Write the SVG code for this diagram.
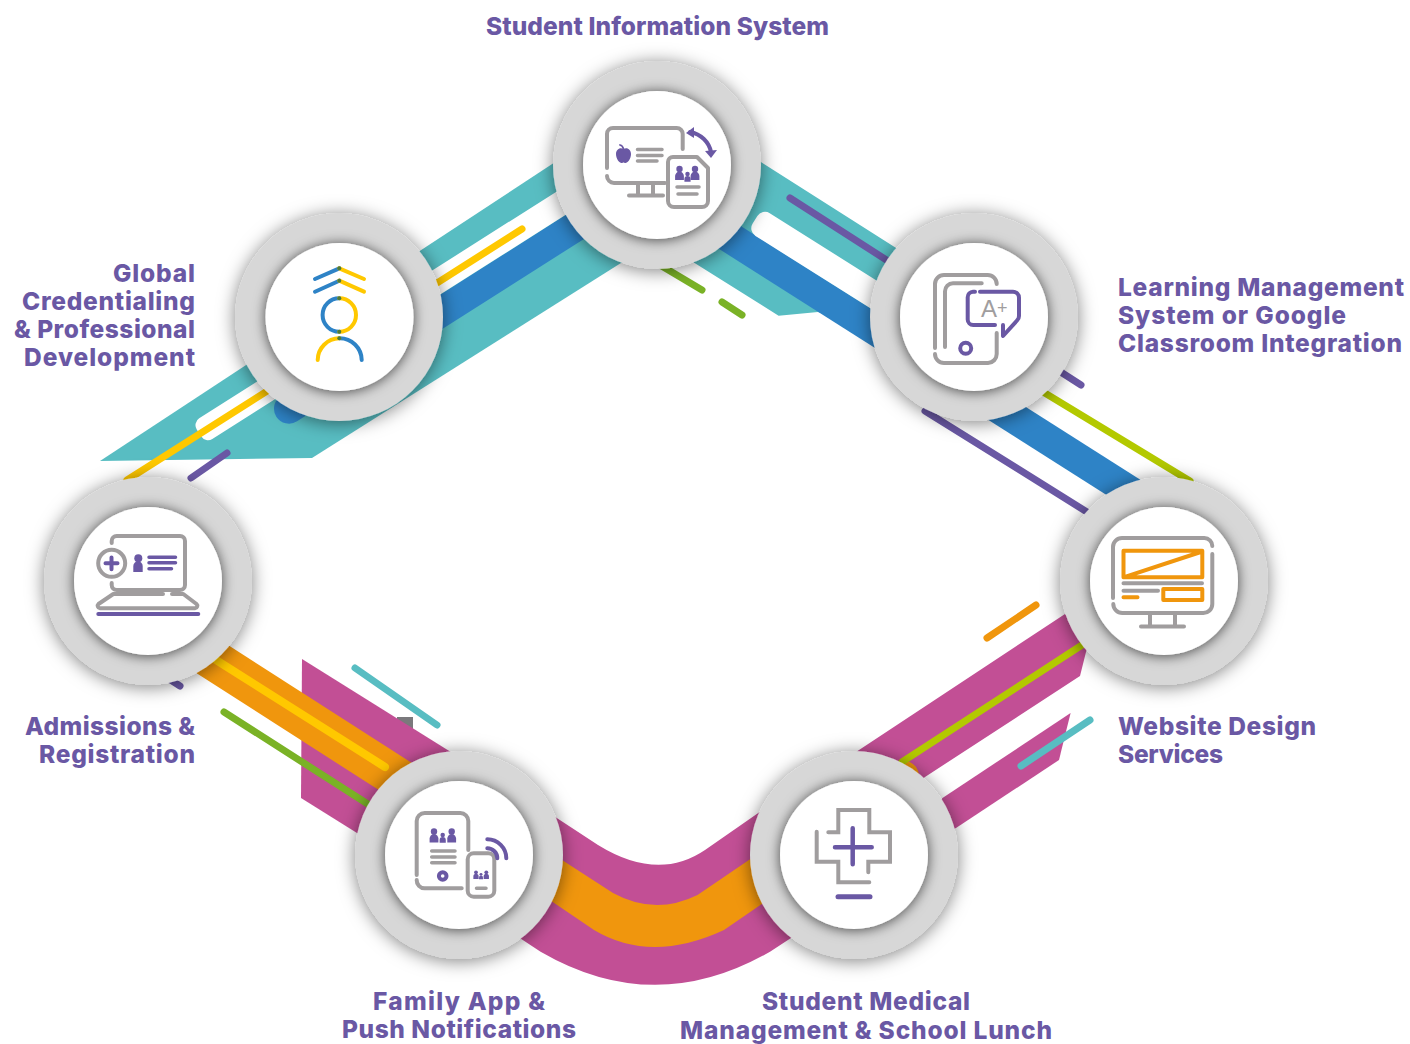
<svg xmlns="http://www.w3.org/2000/svg" width="1410" height="1044" viewBox="0 0 1410 1044">
<style>
.ring{fill:#d7d7d7;filter:url(#outer)}
.disc{fill:#fff;filter:url(#inner)}
.g{fill:none;stroke:#a09d9e;stroke-width:4;stroke-linecap:round;stroke-linejoin:round}
.p{fill:none;stroke:#6a58a4;stroke-width:4;stroke-linecap:round;stroke-linejoin:round}
.o{fill:none;stroke:#f0960d;stroke-width:4;stroke-linecap:round}
.b{fill:none;stroke:#2e83c6;stroke-width:4;stroke-linecap:round}
.y{fill:none;stroke:#ffc800;stroke-width:4;stroke-linecap:round}
.pf{fill:#6a58a4}
.dot{fill:#4d7a3c}
.l{fill:none;stroke-width:7;stroke-linecap:round}
text.t{font-family:"Inter","Liberation Sans",sans-serif;font-weight:800;font-size:24.5px;fill:#6a58a4}
</style>
<defs>
<filter id="outer" x="-30%" y="-30%" width="160%" height="160%"><feDropShadow dx="0" dy="2" stdDeviation="9" flood-color="#000" flood-opacity=".5"/></filter>
<filter id="inner" x="-30%" y="-30%" width="160%" height="160%"><feDropShadow dx="0" dy="1" stdDeviation="6.500" flood-color="#000" flood-opacity=".68"/></filter>
<g id="person"><circle cx="0" cy="-7" r="3.2"/><path d="M-4.4,4V0a4.4,4.4 0 0 1 8.8,0V4Z"/></g>
</defs>

<g id="connectors">
<polygon fill="#58bdc2" points="100,461 575,149 640,251 312,458"/>
<line x1="289" y1="408.6" x2="600" y2="211" stroke="#2e83c6" stroke-width="30" stroke-linecap="round"/>
<rect x="0" y="-12.25" width="475" height="24.5" rx="8" fill="#fff" transform="translate(199,433) rotate(-32.4)"/>
<polygon fill="#58bdc2" points="720,136 915,260 870,330 818,312 778.6,315.7 694.6,263 650,235"/>
<line x1="700" y1="218.5" x2="1160" y2="510.6" stroke="#2e83c6" stroke-width="31"/>
<rect x="0" y="-13.4" width="190" height="26.8" rx="9" fill="#fff" transform="translate(755,219.8) rotate(32.2)"/>
<line class="l" x1="127" y1="480" x2="522" y2="229" stroke="#ffc800"/>
<line class="l" x1="191" y1="478" x2="227" y2="453" stroke="#6a58a4"/>
<line class="l" x1="790" y1="198" x2="1081" y2="385" stroke="#6a58a4"/>
<line class="l" x1="925" y1="411" x2="1095" y2="517" stroke="#6a58a4"/>
<line class="l" x1="1030" y1="384" x2="1190" y2="481" stroke="#b3c900"/>
<line class="l" x1="660" y1="265" x2="702" y2="290" stroke="#7ab226"/>
<line class="l" x1="722" y1="302" x2="742" y2="315" stroke="#7ab226"/>
<rect x="397" y="717" width="16" height="20" fill="#7a797c"/>
<polygon fill="#c24f95" points="302,659 470,764 470,880 357,833 301,798"/>
<polygon fill="#c24f95" points="856,752 1065,614 1090,640 1086,652 1080,676 925,777 880,810"/>
<polygon fill="#c24f95" points="942.5,798 1070.6,713 1059,760 956,828 900,850"/>
<path fill="#c24f95" d="M540,807L598,845Q658,882 705,850L780,798L800,930L791,938L770,951.7Q655,1018 540.6,951.7L500,925Z"/>
<path fill="#f0960d" d="M545,849L613,893Q655,916 697.5,895L765,849L775,895L724,930Q651,964 594,930L535,890Z"/>
<polygon fill="#f0960d" points="200,627 440,781 410,810 165,653"/>
<line x1="850" y1="818" x2="904" y2="776" stroke="#f0960d" stroke-width="30" stroke-linecap="round"/>
<line class="l" x1="902" y1="762" x2="1082" y2="645" stroke="#b3c900"/>
<line class="l" x1="186" y1="641" x2="385" y2="767" stroke="#ffc800" style="stroke-width:8"/>
<line class="l" x1="355" y1="668" x2="437" y2="725" stroke="#58bdc2"/>
<line class="l" x1="224" y1="712" x2="385" y2="815" stroke="#7ab226"/>
<line class="l" x1="160" y1="673" x2="180" y2="686" stroke="#6a58a4"/>
<line class="l" x1="987" y1="638" x2="1036" y2="605" stroke="#f0960d"/>
<line class="l" x1="1021" y1="766" x2="1090" y2="720" stroke="#58bdc2"/>
</g>

<g id="node-sis">
<circle class="ring" cx="657" cy="165" r="104"/><circle class="disc" cx="657" cy="165" r="74"/>
<path class="g" d="M682.7,149V134a6,6 0 0 0 -6,-6H613a6,6 0 0 0 -6,6V168M607,176a7,7 0 0 0 7,7H665M638,185V195M653,185V195M629,195.5H663"/>
<path class="g" d="M673,157H697L708,168V201a6,6 0 0 1 -6,6H674a6,6 0 0 1 -6,-6V162a5,5 0 0 1 5,-5Z"/>
<path class="g" style="stroke-width:3.5" d="M637.5,149.5H662M637.5,155.5H662M637.5,161H657M677,187H699M678,194H697"/>
<path class="pf" d="M623.5,149c-4,-2 -7.5,1 -7.5,5c0,5 3.5,9 5.5,9c1,0 1.5,-.5 2,-.5s1,.5 2,.5c2,0 5.5,-4 5.5,-9c0,-4 -3.5,-7 -7.5,-5Z"/>
<path class="p" style="stroke-width:1.8" d="M623.5,149C623,147 622,145.5 620,145"/>
<g class="pf"><use href="#person" transform="translate(679.5,176)"/><use href="#person" transform="translate(695,176)"/><use href="#person" transform="translate(687.5,179) scale(.7)"/></g>
<path class="p" d="M690,132C701,134 709,142 711,152"/>
<polygon class="pf" points="686,133 694,127 694,138"/>
<polygon class="pf" points="705,151 717,150 711,158"/>
</g>

<g id="node-global">
<circle class="ring" cx="339" cy="317" r="104"/><circle class="disc" cx="339.5" cy="317" r="74"/>
<path class="b" d="M315,279L339.3,268.3M315,291.7L339.3,280.7M339.3,298.3A16.7,16.7 0 0 0 339.3,331.7M339.3,338.3A22,22 0 0 1 361.7,360"/>
<path class="y" d="M339.3,268.3L364,279M339.3,280.7L364,291.7M339.3,298.3A16.7,16.7 0 0 1 339.3,331.7M339.3,338.3A22,22 0 0 0 317.7,360"/>
<circle class="dot" cx="339.3" cy="268.3" r="2"/><circle class="dot" cx="339.3" cy="280.7" r="2"/><circle class="dot" cx="339.3" cy="298.3" r="2"/><circle class="dot" cx="339.3" cy="331.7" r="2"/><circle class="dot" cx="339.3" cy="338.3" r="2"/>
</g>

<g id="node-lms">
<circle class="ring" cx="974" cy="317" r="104"/><circle class="disc" cx="974" cy="317" r="74"/>
<path class="g" d="M996.7,284a9,9 0 0 0 -9,-9H944a9,9 0 0 0 -9,9V348M981.7,283.3H953a8,8 0 0 0 -8,8V347M935,354a9,9 0 0 0 9,9H988a9,9 0 0 0 8.7,-9V333"/>
<path class="p" d="M975,291.7H973a5.5,5.5 0 0 0 -5.3,5.5V319.5a5.5,5.5 0 0 0 5.5,5.5H995M980,291.7H1013a6,6 0 0 1 6,6V316a6,6 0 0 1 -2,4.5L1003,336V325"/>
<circle class="p" cx="965.7" cy="348.3" r="5.5"/>
<text x="981" y="317" font-family="'Liberation Sans',sans-serif" font-size="24" fill="#a09d9e">A<tspan font-size="18" dy="-3">+</tspan></text>
</g>

<g id="node-admissions">
<circle class="ring" cx="148" cy="581" r="104"/><circle class="disc" cx="148" cy="581" r="74"/>
<path class="g" d="M111.7,543V541a5,5 0 0 1 5,-5H180a5,5 0 0 1 5,5V585a5,5 0 0 1 -5,5H116.7a5,5 0 0 1 -5,-5V583"/>
<circle class="g" cx="111.7" cy="563.3" r="13.5"/>
<path class="g" d="M163,594H113.3L98.5,604a2.5,2.5 0 0 0 1.5,4.3H195a2.5,2.5 0 0 0 1.5,-4.3L183.3,594H172"/>
<path class="p" d="M105.5,563.3H117.5M111.5,557.5V569.3M98.3,614H198.3"/>
<path class="p" style="stroke-width:3.5" d="M149,557.3H175.5M149,562.8H175.5M149,568.7H171.5"/>
<circle class="pf" cx="138.3" cy="558.3" r="4"/><path class="pf" d="M133.3,572V566a4.7,4.7 0 0 1 9.4,0V572Z"/>
</g>

<g id="node-website">
<circle class="ring" cx="1164" cy="581" r="104"/><circle class="disc" cx="1164" cy="581" r="74"/>
<path class="g" d="M1212.3,546a8,8 0 0 0 -8,-8H1122a9,9 0 0 0 -9,9V598M1113.3,604a9,9 0 0 0 9,9H1203a9,9 0 0 0 9.3,-9V554M1150,613V626M1175,613V626M1141,626.5H1184M1123.5,583.3H1202M1123.5,590.7H1158"/>
<path class="o" stroke-linejoin="round" d="M1123.5,550.7H1202.3V577.3H1123.5ZM1123.5,577.3L1202.3,551.5M1123.5,597.3H1137.5M1163.3,589H1202.3V600H1163.3Z"/>
</g>

<g id="node-medical">
<circle class="ring" cx="854" cy="855" r="104"/><circle class="disc" cx="854" cy="855" r="74"/>
<path class="g" style="stroke-linejoin:miter" d="M828.3,832.3H838.3V810H869.3V832.3H890V861.7H868.3V872.3M816.7,831.7V861.7H838.3V882.3H869.3"/>
<path class="p" style="stroke-width:4.5" d="M835,847.3H871.7M852.7,828.3V864.3"/>
<path class="p" style="stroke-width:5" d="M838,896.7H870"/>
</g>

<g id="node-family">
<circle class="ring" cx="459" cy="855" r="104"/><circle class="disc" cx="459" cy="855" r="74"/>
<path class="g" d="M468.3,850V821a8,8 0 0 0 -8,-8H424.7a8,8 0 0 0 -8,8V875M416.7,880a8,8 0 0 0 8,8.3H461.7"/>
<rect class="g" x="467.7" y="853.3" width="26.6" height="43.4" rx="6"/>
<path class="g" style="stroke-width:3.5" d="M431.7,851H455M431.7,857H455M431.7,862.7H455M476.5,888.3H486"/>
<circle class="p" cx="442.7" cy="876" r="3.8"/>
<path class="p" d="M487.3,839.3A19,19 0 0 1 506.3,858.3M487.3,848.3A10,10 0 0 1 497.3,858.3"/>
<g class="pf"><use href="#person" transform="translate(434,838.5)"/><use href="#person" transform="translate(451.7,838.5)"/><use href="#person" transform="translate(442.7,840) scale(.7)"/><use href="#person" transform="translate(476,876.5) scale(.6)"/><use href="#person" transform="translate(486.3,876.5) scale(.6)"/><use href="#person" transform="translate(481,877.5) scale(.45)"/></g>
</g>

<g id="labels">
<text class="t" x="486" y="35" textLength="343">Student Information System</text>
<text class="t" x="113" y="282" textLength="82">Global</text>
<text class="t" x="22" y="310" textLength="173">Credentialing</text>
<text class="t" x="14" y="338" textLength="181">&amp; Professional</text>
<text class="t" x="24" y="366" textLength="171">Development</text>
<text class="t" x="1118" y="296" textLength="286">Learning Management</text>
<text class="t" x="1118" y="324" textLength="228">System or Google</text>
<text class="t" x="1118" y="352" textLength="284">Classroom Integration</text>
<text class="t" x="25" y="735" textLength="170">Admissions &amp;</text>
<text class="t" x="39" y="763" textLength="156">Registration</text>
<text class="t" x="1118" y="735" textLength="198">Website Design</text>
<text class="t" x="1118" y="763" textLength="105">Services</text>
<text class="t" x="373" y="1010" textLength="172">Family App &amp;</text>
<text class="t" x="342" y="1038" textLength="234">Push Notifications</text>
<text class="t" x="762" y="1010" textLength="208">Student Medical</text>
<text class="t" x="680" y="1039" textLength="372">Management &amp; School Lunch</text>
</g>
</svg>
